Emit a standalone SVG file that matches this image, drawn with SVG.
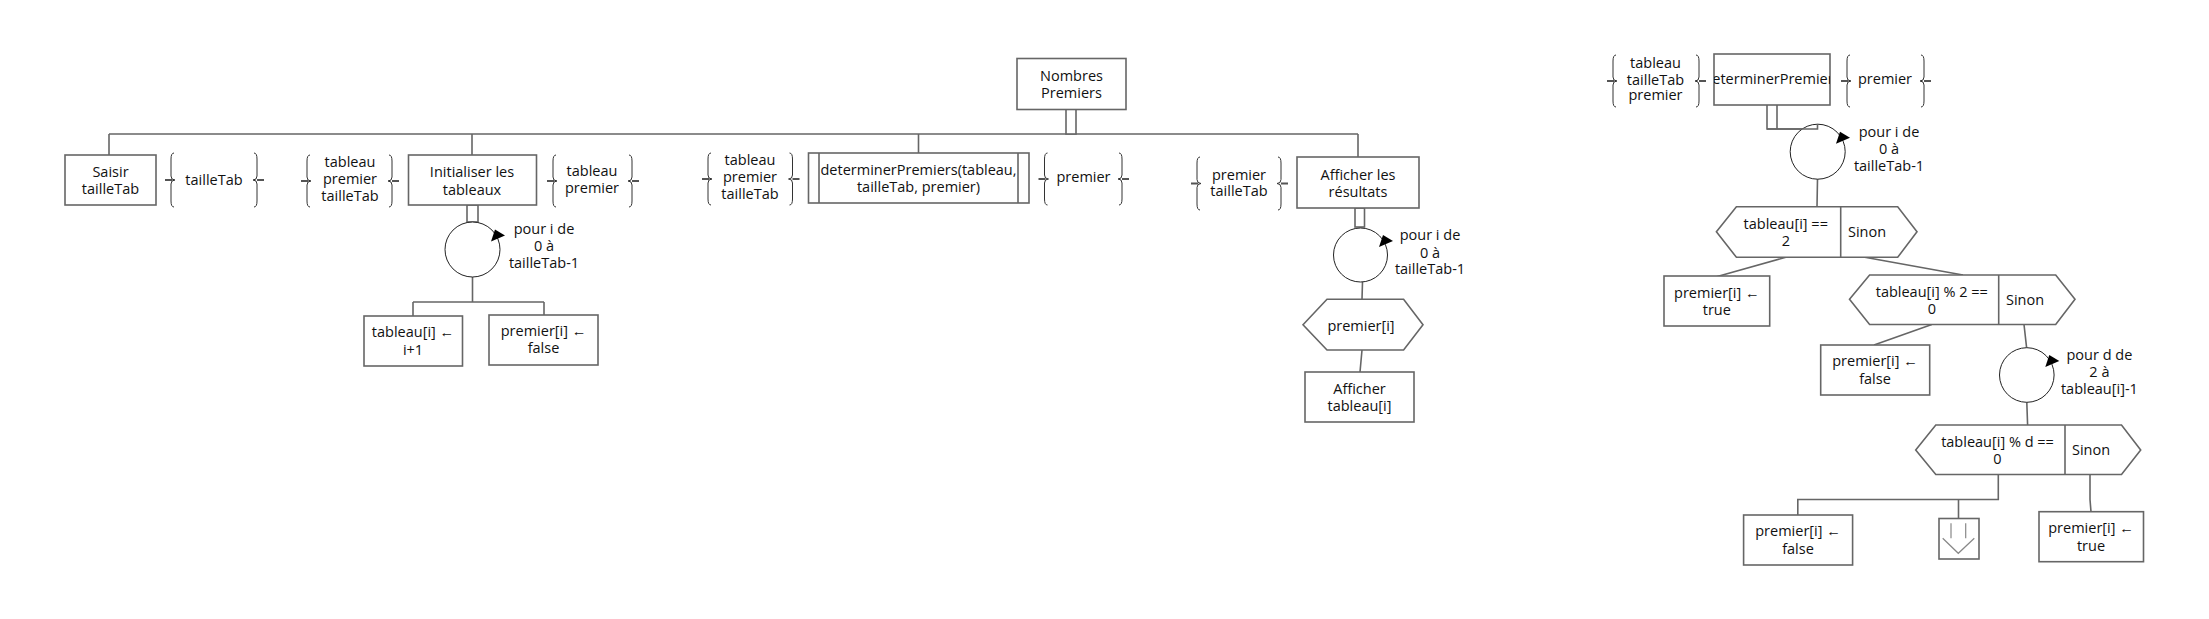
<svg xmlns="http://www.w3.org/2000/svg" width="2209" height="619" viewBox="0 0 2209 619">
<style>
text{font-family:"Open Sans","Liberation Sans",sans-serif;font-size:14.5px;fill:#111;text-anchor:middle}
.l{text-anchor:start}
.box{fill:#fff;stroke:#666;stroke-width:1.6}
.c{fill:none;stroke:#666;stroke-width:1.6}
.loop{fill:#fff;stroke:#222;stroke-width:1}
.ah{fill:#000}
.br{fill:none;stroke:#333;stroke-width:1}
.ba{fill:none;stroke:#555;stroke-width:2.2}
.ex{fill:none;stroke:#888;stroke-width:1.2}
</style>
<defs>
<clipPath id="clipDet"><rect x="1714" y="54" width="116" height="51"/></clipPath>
</defs>
<rect width="2209" height="619" fill="#fff"/>

<g id="connectors">
<path class="c" d="M109,134 H1358 M109,134 V155 M472,134 V155 M918.5,134 V153 M1358,134 V157"/>
<rect class="box" x="1066" y="109" width="10" height="25"/>
<rect class="box" x="467" y="205" width="11" height="17"/>
<path class="c" d="M472.5,277 V302 M413,302 H544 M413,302 V316 M544,302 V315"/>
<rect class="box" x="1355" y="208" width="9.5" height="19"/>
<path class="c" d="M1362.5,282 L1362,299.3 M1362,350 L1360,372"/>
<path class="c" d="M1767,105 V129 H1817.5 V124 M1777,105 V129"/>
<path class="c" d="M1817.5,179 L1817,206.7 M1785.8,257.3 L1716.4,276.7 M1864.8,257.3 L1963,275"/>
<path class="c" d="M1931.8,324.5 L1874,345 M2024,324.5 L2026.6,347.7 M2026.8,402.3 L2027.6,425"/>
<path class="c" d="M1998.3,474.5 V499.5 H1797.8 V515 M1958.5,499.5 V518.5 M2090,474.5 V499.5 L2091,511.7"/>
</g>

<g id="nombres-premiers">
<rect class="box" x="1017" y="58.5" width="109" height="51"/>
<text x="1071.5" y="80.5">Nombres</text>
<text x="1071.5" y="97.5">Premiers</text>
</g>

<g id="saisir">
<rect class="box" x="65" y="155" width="91" height="50"/>
<text x="110.5" y="177">Saisir</text>
<text x="110.5" y="194">tailleTab</text>
</g>
<g id="saisir-out">
<path class="br" d="M174,153 Q171,153 171,159 V176 Q171,180 175,180 Q171,180 171,184 V201 Q171,207 174,207"/>
<path class="br" d="M254,153 Q257,153 257,159 V176 Q257,180 253,180 Q257,180 257,184 V201 Q257,207 254,207"/>
<path class="ba" d="M165,180 H172 M257,180 H264"/>
<text x="214" y="185">tailleTab</text>
</g>

<g id="init-in">
<path class="br" d="M310,155 Q307,155 307,161 V177 Q307,181 311,181 Q307,181 307,185 V201 Q307,207 310,207"/>
<path class="br" d="M389,155 Q392,155 392,161 V177 Q392,181 388,181 Q392,181 392,185 V201 Q392,207 389,207"/>
<path class="ba" d="M301,181 H308 M392,181 H399"/>
<text x="350" y="167">tableau</text>
<text x="350" y="184">premier</text>
<text x="350" y="201">tailleTab</text>
</g>
<g id="init">
<rect class="box" x="408.5" y="155" width="128" height="50"/>
<text x="472" y="177">Initialiser les</text>
<text x="472" y="195">tableaux</text>
</g>
<g id="init-out">
<path class="br" d="M556,155 Q553,155 553,161 V177 Q553,181 557,181 Q553,181 553,185 V201 Q553,207 556,207"/>
<path class="br" d="M629,155 Q632,155 632,161 V177 Q632,181 628,181 Q632,181 632,185 V201 Q632,207 629,207"/>
<path class="ba" d="M547,181 H554 M632,181 H639"/>
<text x="592" y="176">tableau</text>
<text x="592" y="193">premier</text>
</g>
<g id="init-loop">
<circle class="loop" cx="472.5" cy="249.5" r="27.5"/>
<polygon class="ah" points="491,241.5 505,235.5 495,229.5"/>
<text x="544" y="234">pour i de</text>
<text x="544" y="251">0 à</text>
<text x="544" y="268">tailleTab-1</text>
</g>
<g id="init-tab">
<rect class="box" x="364" y="316" width="98.5" height="50"/>
<text x="413" y="337">tableau[i] ←</text>
<text x="413" y="355">i+1</text>
</g>
<g id="init-prem">
<rect class="box" x="489" y="315" width="109" height="50"/>
<text x="543.5" y="336">premier[i] ←</text>
<text x="543.5" y="353">false</text>
</g>

<g id="det-in">
<path class="br" d="M711,153 Q708,153 708,159 V175 Q708,179 712,179 Q708,179 708,183 V199 Q708,205 711,205"/>
<path class="br" d="M789.5,153 Q792.5,153 792.5,159 V175 Q792.5,179 788.5,179 Q792.5,179 792.5,183 V199 Q792.5,205 789.5,205"/>
<path class="ba" d="M702,179 H709 M792.5,179 H799.5"/>
<text x="750" y="165">tableau</text>
<text x="750" y="182">premier</text>
<text x="750" y="199">tailleTab</text>
</g>
<g id="det-call">
<rect class="box" x="808.5" y="153" width="220.5" height="50"/>
<path class="c" d="M819,153 V203 M1018,153 V203"/>
<text x="918.5" y="175">determinerPremiers(tableau,</text>
<text x="918.5" y="192">tailleTab, premier)</text>
</g>
<g id="det-out">
<path class="br" d="M1047.5,153 Q1044.5,153 1044.5,159 V175 Q1044.5,179 1048.5,179 Q1044.5,179 1044.5,183 V199 Q1044.5,205 1047.5,205"/>
<path class="br" d="M1119,153 Q1122,153 1122,159 V175 Q1122,179 1118,179 Q1122,179 1122,183 V199 Q1122,205 1119,205"/>
<path class="ba" d="M1038.5,179 H1045.5 M1122,179 H1129"/>
<text x="1083.5" y="182">premier</text>
</g>

<g id="aff-in">
<path class="br" d="M1200,157 Q1197,157 1197,163 V179.5 Q1197,183.5 1201,183.5 Q1197,183.5 1197,187.5 V204 Q1197,210 1200,210"/>
<path class="br" d="M1278,157 Q1281,157 1281,163 V179.5 Q1281,183.5 1277,183.5 Q1281,183.5 1281,187.5 V204 Q1281,210 1278,210"/>
<path class="ba" d="M1191,183.5 H1198 M1281,183.5 H1288"/>
<text x="1239" y="179.5">premier</text>
<text x="1239" y="196">tailleTab</text>
</g>
<g id="aff">
<rect class="box" x="1297" y="157" width="122" height="51"/>
<text x="1358" y="180">Afficher les</text>
<text x="1358" y="197">résultats</text>
</g>
<g id="aff-loop">
<circle class="loop" cx="1360.5" cy="255" r="27"/>
<polygon class="ah" points="1379,247 1393,241 1383,235"/>
<text x="1430" y="240">pour i de</text>
<text x="1430" y="257.5">0 à</text>
<text x="1430" y="274">tailleTab-1</text>
</g>
<g id="aff-test">
<polygon class="box" points="1303,324.7 1327,299.3 1403.6,299.3 1423,324.7 1403.6,350 1327,350"/>
<text x="1361" y="331">premier[i]</text>
</g>
<g id="aff-print">
<rect class="box" x="1305" y="372" width="109" height="50"/>
<text x="1359.5" y="394">Afficher</text>
<text x="1359.5" y="410.5">tableau[i]</text>
</g>

<g id="dp-in">
<path class="br" d="M1616,55 Q1613,55 1613,61 V77 Q1613,81 1617,81 Q1613,81 1613,85 V101 Q1613,107 1616,107"/>
<path class="br" d="M1696,55 Q1699,55 1699,61 V77 Q1699,81 1695,81 Q1699,81 1699,85 V101 Q1699,107 1696,107"/>
<path class="ba" d="M1607,81 H1614 M1699,81 H1706"/>
<text x="1655.5" y="68">tableau</text>
<text x="1655.5" y="84.5">tailleTab</text>
<text x="1655.5" y="100">premier</text>
</g>
<g id="dp">
<rect class="box" x="1714" y="54" width="116" height="51"/>
<text x="1772" y="84" clip-path="url(#clipDet)">determinerPremiers</text>
</g>
<g id="dp-out">
<path class="br" d="M1850,55 Q1847,55 1847,61 V77 Q1847,81 1851,81 Q1847,81 1847,85 V101 Q1847,107 1850,107"/>
<path class="br" d="M1921,55 Q1924,55 1924,61 V77 Q1924,81 1920,81 Q1924,81 1924,85 V101 Q1924,107 1921,107"/>
<path class="ba" d="M1841,81 H1848 M1924,81 H1931"/>
<text x="1885" y="84">premier</text>
</g>
<g id="dp-loop">
<circle class="loop" cx="1817.7" cy="151.7" r="27.5"/>
<path class="c" d="M1767,129 H1817.5 V124"/>
<polygon class="ah" points="1836,143.7 1850,137.7 1840,131.7"/>
<text x="1889" y="137">pour i de</text>
<text x="1889" y="154">0 à</text>
<text x="1889" y="171">tailleTab-1</text>
</g>
<g id="dp-if1">
<polygon class="box" points="1716.4,231.7 1736.4,206.7 1897.7,206.7 1917,231.7 1897.7,257.3 1736.4,257.3"/>
<path class="c" d="M1840.7,206.7 V257.3"/>
<text x="1785.8" y="229">tableau[i] ==</text>
<text x="1785.8" y="245.5">2</text>
<text class="l" x="1848" y="237">Sinon</text>
</g>
<g id="dp-true1">
<rect class="box" x="1664" y="276" width="105.7" height="50"/>
<text x="1716.8" y="297.5">premier[i] ←</text>
<text x="1716.8" y="315">true</text>
</g>
<g id="dp-if2">
<polygon class="box" points="1849.5,299.3 1869.6,275 2055.7,275 2075,299.3 2055.7,324.5 1869.6,324.5"/>
<path class="c" d="M1998.7,275 V324.5"/>
<text x="1931.8" y="297">tableau[i] % 2 ==</text>
<text x="1931.8" y="314">0</text>
<text class="l" x="2006" y="305">Sinon</text>
</g>
<g id="dp-false1">
<rect class="box" x="1820.7" y="345" width="109" height="50"/>
<text x="1875" y="366">premier[i] ←</text>
<text x="1875" y="384">false</text>
</g>
<g id="dp-loop2">
<circle class="loop" cx="2026.8" cy="375" r="27.3"/>
<polygon class="ah" points="2045.3,367 2059.3,361 2049.3,355"/>
<text x="2099.4" y="360">pour d de</text>
<text x="2099.4" y="377">2 à</text>
<text x="2099.4" y="394">tableau[i]-1</text>
</g>
<g id="dp-if3">
<polygon class="box" points="1915.7,450 1935.8,425 2121.5,425 2140.7,450 2121.5,474.5 1935.8,474.5"/>
<path class="c" d="M2065,425 V474.5"/>
<text x="1997.5" y="447">tableau[i] % d ==</text>
<text x="1997.5" y="464">0</text>
<text class="l" x="2072" y="455">Sinon</text>
</g>
<g id="dp-false2">
<rect class="box" x="1743.6" y="515" width="109" height="50"/>
<text x="1798" y="536">premier[i] ←</text>
<text x="1798" y="553.5">false</text>
</g>
<g id="dp-exit">
<rect class="box" x="1939" y="518.5" width="40" height="40.5"/>
<path class="ex" d="M1951,523.3 V538.3 M1965.7,523.3 V538.3 M1942.7,538.3 L1958.3,553.3 L1974.3,538.3"/>
</g>
<g id="dp-true2">
<rect class="box" x="2039" y="511.7" width="104.5" height="50"/>
<text x="2091" y="533">premier[i] ←</text>
<text x="2091" y="551">true</text>
</g>
</svg>
